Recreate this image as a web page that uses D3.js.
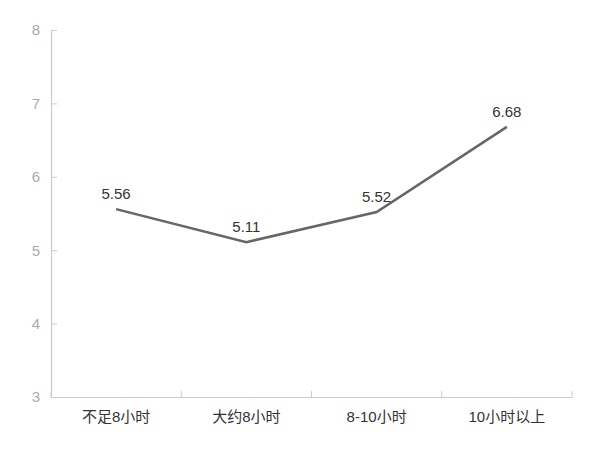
<!DOCTYPE html>
<html><head><meta charset="utf-8">
<script src="https://cdn.jsdelivr.net/npm/d3@7"></script>
<style>body{margin:0;background:#fff}</style>
</head><body>
<svg id="c" width="600" height="451"></svg>
<script>
const categories = ["不足8小时", "大约8小时", "8-10小时", "10小时以上"];
const values = [5.56, 5.11, 5.52, 6.68];
const yTicks = [3, 4, 5, 6, 7, 8];

const svg = d3.select("#c");
const font = "'Liberation Sans', Arial, 'Noto Sans CJK SC', sans-serif";
const x = d3.scaleBand().domain(categories).range([51, 572]);
const y = d3.scaleLinear().domain([3, 8]).range([397, 30]);

// y axis
const ya = svg.append("g").attr("transform", "translate(51,0)")
  .call(d3.axisLeft(y).tickValues(yTicks).tickSize(-6).tickPadding(11).tickFormat(d3.format("d")));
ya.select(".domain").attr("stroke", "#ccc").attr("stroke-width", 1.2);
ya.selectAll(".tick line").attr("stroke", "#ccc");
ya.selectAll(".tick text").attr("fill", "#aaa").style("font-size", "15px").style("font-family", font);

// x axis
const xa = svg.append("g").attr("transform", "translate(0,397)")
  .call(d3.axisBottom(x).tickSize(0).tickPadding(14));
xa.select(".domain").attr("stroke", "#ccc").attr("stroke-width", 1.2);
xa.selectAll(".tick text").attr("fill", "#333").style("font-size", "15px").style("font-family", font);
const edges = categories.map(c => x(c)).concat([x.range()[1]]);
xa.selectAll(".sep").data(edges).enter().append("line")
  .attr("x1", d => d).attr("x2", d => d).attr("y1", 0).attr("y2", -6)
  .attr("stroke", "#ccc");

// line
const line = d3.line().x((d, i) => x(categories[i]) + x.bandwidth() / 2).y(d => y(d));
svg.append("path").datum(values).attr("d", line)
  .attr("fill", "none").attr("stroke", "#666").attr("stroke-width", 2.5);

// labels
svg.selectAll(".lbl").data(values).enter().append("text")
  .attr("x", (d, i) => x(categories[i]) + x.bandwidth() / 2)
  .attr("y", d => y(d) - 10)
  .attr("text-anchor", "middle")
  .attr("fill", "#333").style("font-size", "15px").style("font-family", font)
  .text(d => d.toFixed(2));
</script>
</body></html>
